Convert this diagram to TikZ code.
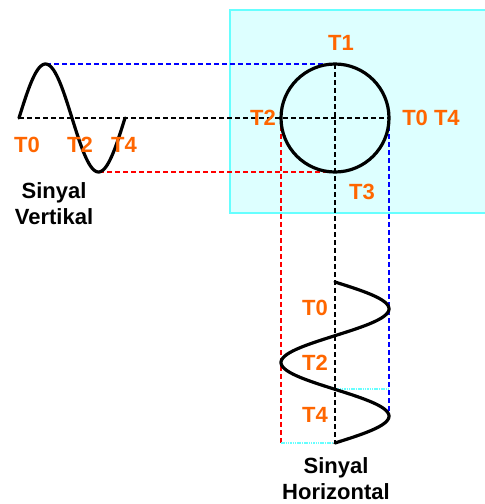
\documentclass[tikz,border=0pt]{standalone}
\usepackage{fontspec}
\setmainfont{Liberation Sans}[BoldFont={Liberation Sans Bold}]
\usepackage{xcolor}
\usepackage{tikz}
\usetikzlibrary{positioning}
\definecolor{tlabel}{HTML}{FF6600}
\definecolor{screenfill}{HTML}{DDFFFF}
\definecolor{screenedge}{HTML}{66FFFF}
\definecolor{guideblue}{HTML}{0000FF}
\definecolor{guidered}{HTML}{FF0000}
\tikzset{
  screen/.style={
    draw=screenedge,
    fill=screenfill,
    line width=1.4pt
  },
  signal/.style={
    draw=black,
    line width=3.2pt,
    line cap=round
  },
  guide/.style={
    line width=1.9pt,
    dash pattern=on 5pt off 3pt
  },
  guideb/.style={guide, draw=guideblue},
  guider/.style={guide, draw=guidered},
  guidek/.style={guide, draw=black},
  thinguide/.style={
    draw=screenedge,
    line width=1.2pt,
    dash pattern=on 1.5pt off 0.8pt
  },
  tmark/.style={
    text=tlabel,
    font=\fontsize{22}{24}\selectfont\bfseries,
    inner sep=1pt
  },
  caption/.style={
    font=\fontsize{22}{26}\selectfont\bfseries,
    align=center,
    inner sep=1pt
  }
}

\begin{document}
\begin{tikzpicture}[x=1pt,y=-1pt]
    \useasboundingbox (0,0) rectangle (485,504);

    % layar osiloskop
    \draw[screen] (230,10) rectangle (492,213);

    % titik penting
    \coordinate (vs) at (19,118);
    \coordinate (vpk) at (46,64);
    \coordinate (vtr) at (99,172);
    \coordinate (ve) at (125,118);
    \coordinate (ctop) at (335,64);
    \coordinate (cbot) at (335,172);
    \coordinate (cleft) at (281,118);
    \coordinate (cright) at (389,118);
    \coordinate (hs) at (335,282);
    \coordinate (hpk) at (389,415);
    \coordinate (hend) at (335,443);
    \coordinate (hred) at (281,443);
    \coordinate (hmid) at (335,389);
    \coordinate (hmidr) at (389,389);

    % garis bantu
    \draw[guideb] (vpk) -- (ctop);
    \draw[guidek] (vs) -- (cright);
    \draw[guider] (vtr) -- (cbot);
    \draw[guidek] (ctop) -- (hend);
    \draw[guider] (cleft) -- (hred);
    \draw[guideb] (cright) -- (hpk);
    \draw[thinguide] (hmid) -- (hmidr);
    \draw[thinguide] (hred) -- (hend);

    % sinyal dan lingkaran
    \draw[signal] plot[domain=19:125, samples=80, smooth]
        (\x, {118 - 54*sin((\x-19)/106*360)});
    \draw[signal] plot[domain=282:443, samples=120, smooth]
        ({335 + 54*sin((\x-282)/107.33*360)}, \x);
    \draw[signal] (335,118) circle[radius=54];

    % label waktu
    \node[tmark] (vt0) at (27,145) {T0};
    \node[tmark] (vt2) at (80,145) {T2};
    \node[tmark] (vt4) at (124,145) {T4};
    \node[tmark] (ct1) at (341,43) {T1};
    \node[tmark] (ct2) at (263,118) {T2};
    \node[tmark] (ct04) at (431,118) {T0 T4};
    \node[tmark] (ct3) at (362,192) {T3};
    \node[tmark] (ht0) at (315,308) {T0};
    \node[tmark] (ht2) at (315,363) {T2};
    \node[tmark] (ht4) at (315,415) {T4};

    \node[caption] (vcap) at (54,204) {Sinyal\\Vertikal};
    \node[caption] (hcap) at (336,479) {Sinyal\\Horizontal};
\end{tikzpicture}
\end{document}
